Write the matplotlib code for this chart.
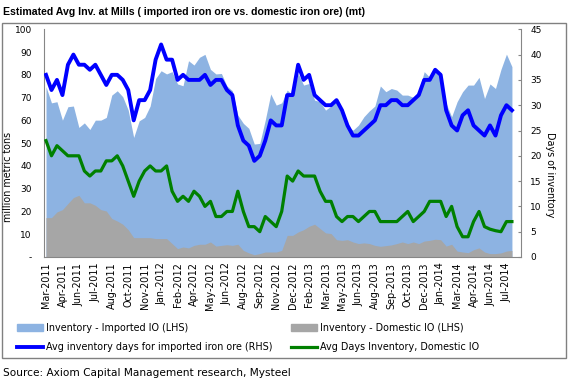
import numpy as np
import matplotlib
matplotlib.use("Agg")
import matplotlib.pyplot as plt
from matplotlib.patches import Rectangle, Patch
from matplotlib.lines import Line2D

# inventory, million metric tons (LHS)
imported_inv = [74.8, 67.7, 68.2, 60.1, 66.0, 66.3, 56.9, 58.9, 56.0, 60.1, 60.1, 61.3, 71.1, 73.0, 70.4, 64.5,
                52.5, 59.8, 61.3, 66.3, 78.4, 81.8, 80.4, 81.4, 76.0, 75.2, 86.2, 84.3, 87.7, 89.0, 82.4, 80.4,
                80.6, 75.1, 73.0, 62.3, 58.7, 56.5, 49.6, 49.9, 60.1, 71.6, 66.7, 67.7, 73.3, 71.1, 80.6, 75.5,
                76.2, 68.9, 68.2, 64.5, 66.3, 68.9, 64.5, 57.5, 55.7, 57.9, 61.6, 64.2, 66.3, 75.1, 72.6, 74.0,
                73.3, 71.1, 71.1, 70.1, 73.0, 81.4, 78.9, 82.1, 79.9, 67.4, 61.6, 68.2, 72.6, 75.5, 75.5, 78.9,
                69.6, 76.0, 74.0, 82.4, 89.1, 83.6]
domestic_inv = [17.3, 17.3, 19.8, 20.8, 23.5, 26.1, 27.1, 23.8, 23.8, 22.7, 20.8, 20.2, 16.9, 15.8, 14.4, 12.0,
                8.5, 8.5, 8.5, 8.5, 8.1, 8.1, 8.1, 5.9, 3.7, 4.4, 4.0, 5.1, 5.6, 5.6, 6.6, 4.8,
                5.1, 5.4, 5.1, 5.6, 2.9, 1.8, 1.0, 1.5, 2.2, 2.2, 2.2, 2.9, 9.5, 9.5, 11.0, 12.0,
                13.5, 14.4, 12.5, 10.6, 10.3, 7.6, 7.3, 7.6, 6.6, 5.9, 6.2, 5.9, 5.1, 4.7, 5.0, 5.3,
                5.9, 6.6, 5.9, 6.6, 5.9, 7.0, 7.3, 7.8, 7.6, 4.8, 5.6, 2.6, 2.2, 1.9, 3.2, 4.0,
                2.2, 1.5, 1.5, 1.8, 2.6, 2.9]

# days of inventory (RHS)
days_imported = [36, 33, 35, 32, 38, 40, 38, 38, 37, 38, 36, 34, 36, 36, 35, 33, 27, 31, 31, 33, 39, 42,
                 39, 39, 35, 36, 35, 35, 35, 36, 34, 35, 35, 33, 32, 26, 23, 22, 19, 20, 23, 27, 26, 26,
                 32, 32, 38, 35, 36, 32, 31, 30, 30, 31, 29, 26, 24, 24, 25, 26, 27, 30, 30, 31, 31, 30,
                 30, 31, 32, 35, 35, 37, 36, 29, 26, 25, 28, 29, 26, 25, 24, 26, 24, 28, 30, 29]
days_domestic = [23, 20, 22, 21, 20, 20, 20, 17, 16, 17, 17, 19, 19, 20, 18, 15, 12, 15, 17, 18, 17, 17,
                 18, 13, 11, 12, 11, 13, 12, 10, 11, 8, 8, 9, 9, 13, 9, 6, 6, 5, 8, 7, 6, 9,
                 16, 15, 17, 16, 16, 16, 13, 11, 11, 8, 7, 8, 8, 7, 8, 9, 9, 7, 7, 7, 7, 8,
                 9, 7, 8, 9, 11, 11, 11, 8, 10, 6, 4, 4, 7, 9, 6, 5.5, 5.2, 5, 7, 7]

tick_labels = ["Mar-2011", "Apr-2011", "Jun-2011", "Jul-2011", "Aug-2011", "Oct-2011", "Nov-2011",
               "Jan-2012", "Feb-2012", "Apr-2012", "May-2012", "Jun-2012", "Aug-2012", "Sep-2012",
               "Nov-2012", "Dec-2012", "Feb-2013", "Mar-2013", "May-2013", "Jun-2013", "Aug-2013",
               "Sep-2013", "Oct-2013", "Dec-2013", "Jan-2014", "Mar-2014", "Apr-2014", "Jun-2014",
               "Jul-2014"]

W, H = 571, 381
x = np.arange(len(imported_inv))
grey = "#868686"
fs = 6.5

fig = plt.figure(figsize=(W / 100, H / 100), dpi=100)
ax = fig.add_axes([44.3 / W, 1 - 257 / H, (520.7 - 44.3) / W, (257 - 29.3) / H])
ax2 = ax.twinx()

ax.fill_between(x, 0, imported_inv, color="#8DB3E2", lw=0)
ax.fill_between(x, 0, domestic_inv, color="#A6A6A6", lw=0)
ax2.plot(x, days_imported, color="#0000FF", lw=2.8, solid_joinstyle="round")
ax2.plot(x, days_domestic, color="#008000", lw=2.3, solid_joinstyle="round")

ax.set_xlim(-0.31, 86.6)
ax.set_ylim(0, 100)
ax2.set_ylim(0, 45)

ax.set_xticks(np.arange(0, 85, 3))
ax.set_xticklabels(tick_labels, rotation=90, fontsize=6.9)
ax.set_yticks(np.arange(0, 101, 10))
ax.set_yticklabels(["-"] + [str(v) for v in range(10, 101, 10)], fontsize=fs)
ax2.set_yticks(np.arange(0, 46, 5))
ax2.set_yticklabels([str(v) for v in range(0, 46, 5)], fontsize=fs)

ax.tick_params(axis="x", length=0, pad=4)
ax.tick_params(axis="y", length=0, pad=9)
ax2.tick_params(axis="y", direction="in", length=2.5, color=grey, pad=7)

for a in (ax, ax2):
    a.spines["top"].set_visible(False)
    for s in ("left", "right", "bottom"):
        a.spines[s].set_color(grey)
        a.spines[s].set_linewidth(0.8)
ax.spines["right"].set_visible(False)
ax2.spines["left"].set_visible(False)
ax2.spines["bottom"].set_visible(False)

fig.text(8 / W, 1 - 177 / H, "million metric tons", rotation=90, fontsize=6.9, ha="center", va="center")
fig.text(550 / W, 1 - 175 / H, "Days of inventory", rotation=270, fontsize=6.9, ha="center", va="center")

fig.text(3 / W, 1 - 12 / H, "Estimated Avg Inv. at Mills ( imported iron ore vs. domestic iron ore) (mt)",
         fontsize=7.6, weight="bold", family=["Liberation Sans", "DejaVu Sans"], ha="left", va="center")
fig.text(3 / W, 1 - 373 / H, "Source: Axiom Capital Management research, Mysteel",
         fontsize=7.6, ha="left", va="center")

fig.add_artist(Rectangle((1.5 / W, 1 - 358 / H), (565.7 - 1.5) / W, (358 - 23) / H,
                         transform=fig.transFigure, fill=False, ec="#808080", lw=1))

h1 = [Patch(color="#8DB3E2"), Line2D([], [], color="#0000FF", lw=2.8)]
h2 = [Patch(color="#A6A6A6"), Line2D([], [], color="#008000", lw=2.3)]
kw = dict(loc="upper left", frameon=False, fontsize=6.9, handlelength=2.7, handleheight=0.8,
          handletextpad=0.35, labelspacing=0.95, borderpad=0, borderaxespad=0)
fig.legend(h1, ["Inventory - Imported IO (LHS)", "Avg inventory days for imported iron ore (RHS)"],
           bbox_to_anchor=(17 / W, 1 - 323 / H), **kw)
fig.legend(h2, ["Inventory - Domestic IO (LHS)", "Avg Days Inventory, Domestic IO"],
           bbox_to_anchor=(291 / W, 1 - 323 / H), **kw)

fig.savefig("out.png", dpi=100)
